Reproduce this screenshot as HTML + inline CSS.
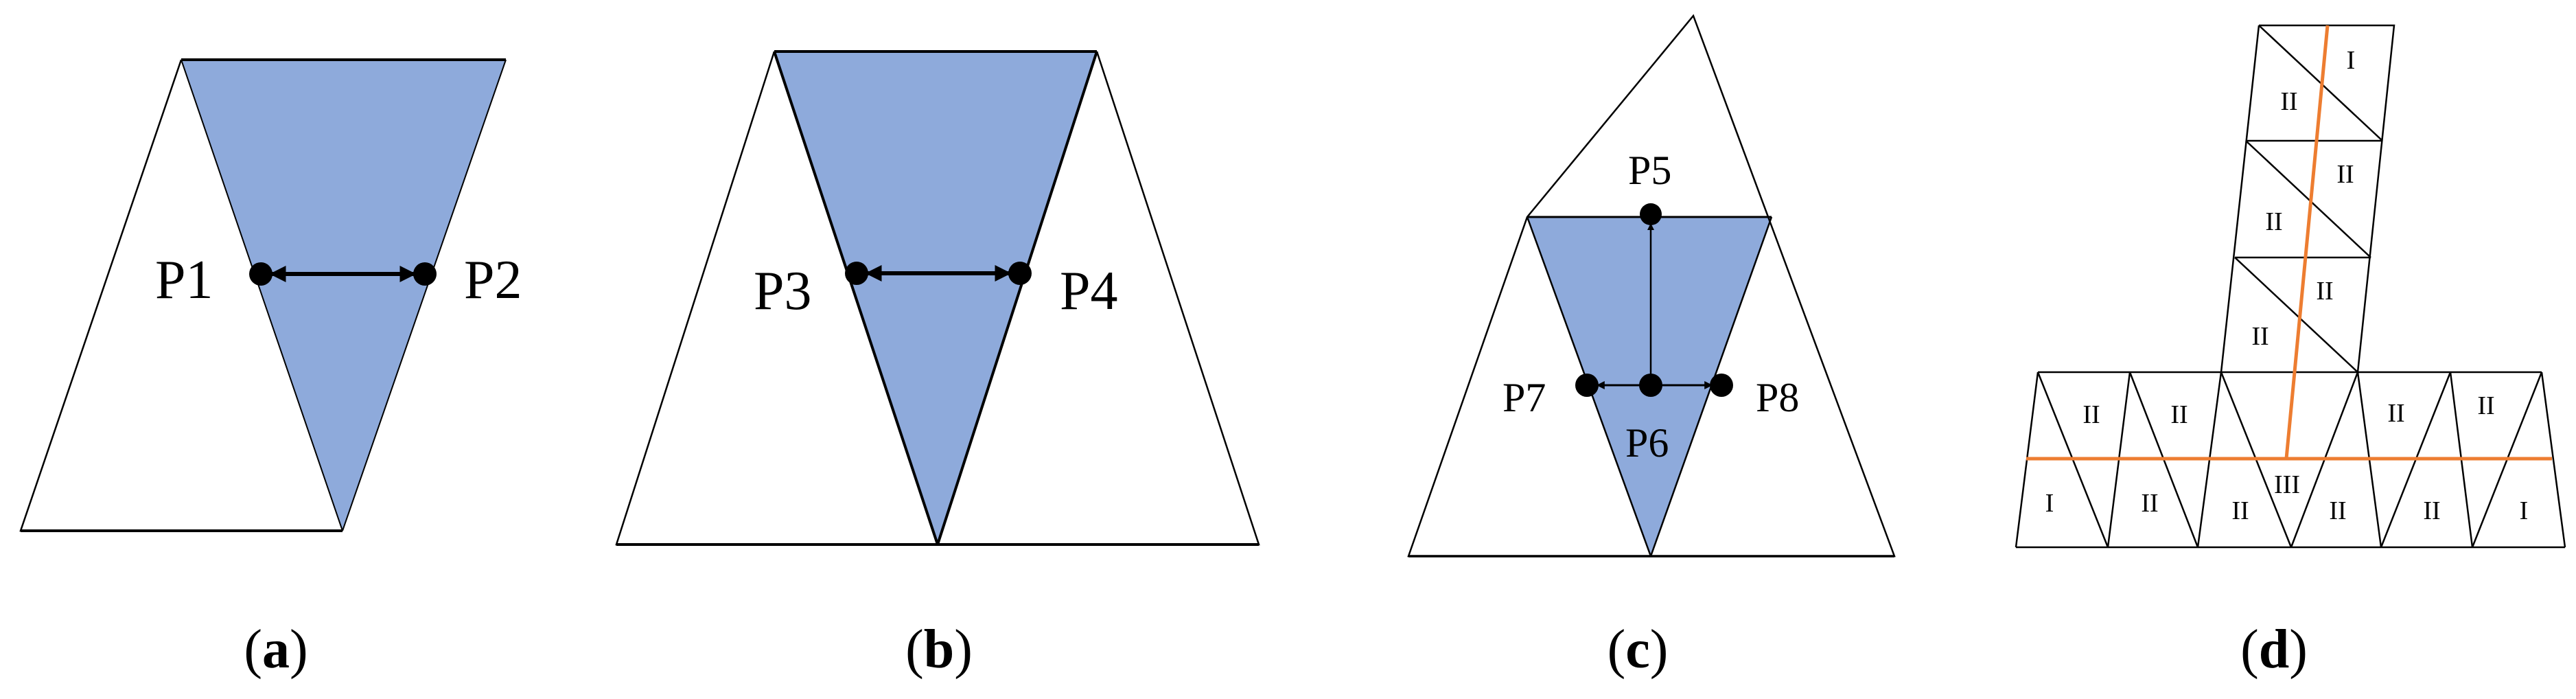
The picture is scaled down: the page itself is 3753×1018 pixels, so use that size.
<!DOCTYPE html>
<html><head><meta charset="utf-8"><style>
html,body{margin:0;padding:0;background:#fff;}
svg{display:block;}
svg text{font-family:"Liberation Serif","DejaVu Serif",serif;fill:#000;}
</style></head><body>
<svg width="3753" height="1018" viewBox="0 0 3753 1018" xmlns="http://www.w3.org/2000/svg" font-family="Liberation Serif, DejaVu Serif, serif">
<defs>
<marker id="ah" viewBox="0 0 10 10" refX="9" refY="5" markerWidth="4" markerHeight="4" orient="auto-start-reverse"><path d="M0,0 L10,5 L0,10 z" fill="#000"/></marker>
</defs>
<!-- (a) -->
<polygon points="264,87 737,87 499,773" fill="#8eaadb"/>
<polyline points="264,87 30,773 499,773" fill="none" stroke="#000" stroke-width="2.5"/>
<line x1="264" y1="87" x2="737" y2="87" stroke="#000" stroke-width="4"/>
<line x1="264" y1="87" x2="499" y2="773" stroke="#000" stroke-width="2"/>
<line x1="737" y1="87" x2="499" y2="773" stroke="#000" stroke-width="2"/>
<line x1="30" y1="773" x2="499" y2="773" stroke="#000" stroke-width="4"/>
<line x1="395" y1="399" x2="604" y2="399" stroke="#000" stroke-width="6" marker-start="url(#ah)" marker-end="url(#ah)"/>
<circle cx="380" cy="399" r="17"/><circle cx="619" cy="399" r="17"/>
<g font-family="Liberation Serif, DejaVu Serif, serif">
<text x="226" y="434" font-size="80">P1</text>
<text x="676" y="434" font-size="80">P2</text>
</g>
<!-- (b) -->
<polygon points="1128,75 1598,75 1366,793" fill="#8eaadb"/>
<polyline points="1128,75 898,793 1834,793 1598,75" fill="none" stroke="#000" stroke-width="2.5"/>
<line x1="1128" y1="75" x2="1598" y2="75" stroke="#000" stroke-width="4"/>
<line x1="1128" y1="75" x2="1366" y2="793" stroke="#000" stroke-width="4"/>
<line x1="1598" y1="75" x2="1366" y2="793" stroke="#000" stroke-width="4"/>
<line x1="898" y1="793" x2="1834" y2="793" stroke="#000" stroke-width="4"/>
<line x1="1263" y1="398" x2="1471" y2="398" stroke="#000" stroke-width="6" marker-start="url(#ah)" marker-end="url(#ah)"/>
<circle cx="1248" cy="398" r="17"/><circle cx="1486" cy="398" r="17"/>
<g font-family="Liberation Serif, DejaVu Serif, serif">
<text x="1098" y="450" font-size="80">P3</text>
<text x="1544" y="450" font-size="80">P4</text>
</g>
<!-- (c) -->
<polygon points="2225,316 2581,316 2405,810" fill="#8eaadb"/>
<polygon points="2052,810 2225,316 2467,23 2760,810" fill="none" stroke="#000" stroke-width="2.5"/>
<line x1="2225" y1="316" x2="2581" y2="316" stroke="#000" stroke-width="3"/>
<line x1="2225" y1="316" x2="2405" y2="810" stroke="#000" stroke-width="2.5"/>
<line x1="2581" y1="316" x2="2405" y2="810" stroke="#000" stroke-width="2.5"/>
<line x1="2052" y1="810" x2="2760" y2="810" stroke="#000" stroke-width="3.5"/>
<line x1="2405" y1="550" x2="2405" y2="326" stroke="#000" stroke-width="2.5" marker-end="url(#ah)"/>
<line x1="2395" y1="561" x2="2327" y2="561" stroke="#000" stroke-width="3" marker-end="url(#ah)"/>
<line x1="2415" y1="561" x2="2494" y2="561" stroke="#000" stroke-width="3" marker-end="url(#ah)"/>
<circle cx="2405" cy="312" r="16"/><circle cx="2405" cy="561" r="17"/>
<circle cx="2312" cy="561" r="17"/><circle cx="2508" cy="561" r="17"/>
<g font-family="Liberation Serif, DejaVu Serif, serif" font-size="60">
<text x="2372" y="268">P5</text>
<text x="2189" y="599">P7</text>
<text x="2558" y="599">P8</text>
<text x="2368" y="665">P6</text>
</g>
<!-- (d) -->
<g fill="none" stroke="#000" stroke-width="2.5">
<polyline points="3291,37 3488,37 3435,542"/>
<line x1="3291" y1="37" x2="3236" y2="542"/>
<line x1="3272" y1="205" x2="3471" y2="205"/>
<line x1="3256" y1="375" x2="3454" y2="375"/>
<line x1="3291" y1="37" x2="3471" y2="205"/>
<line x1="3272" y1="205" x2="3454" y2="375"/>
<line x1="3256" y1="375" x2="3435" y2="542"/>
<line x1="2969" y1="542" x2="3703" y2="542"/>
<line x1="2937" y1="797" x2="3737" y2="797"/>
<line x1="2969" y1="542" x2="2937" y2="797"/>
<line x1="3703" y1="542" x2="3737" y2="797"/>
<line x1="2969" y1="542" x2="3071" y2="797"/>
<line x1="3103" y1="542" x2="3071" y2="797"/>
<line x1="3103" y1="542" x2="3202" y2="797"/>
<line x1="3236" y1="542" x2="3202" y2="797"/>
<line x1="3236" y1="542" x2="3338" y2="797"/>
<line x1="3435" y1="542" x2="3338" y2="797"/>
<line x1="3435" y1="542" x2="3469" y2="797"/>
<line x1="3570" y1="542" x2="3469" y2="797"/>
<line x1="3570" y1="542" x2="3602" y2="797"/>
<line x1="3703" y1="542" x2="3602" y2="797"/>
</g>
<line x1="3391" y1="37" x2="3331" y2="668" stroke="#ed7d31" stroke-width="5"/>
<line x1="2952" y1="668" x2="3718" y2="668" stroke="#ed7d31" stroke-width="5"/>
<g font-family="Liberation Serif, DejaVu Serif, serif" font-size="38" text-anchor="middle">
<text x="3425" y="100">I</text>
<text x="3335" y="160">II</text>
<text x="3417" y="266">II</text>
<text x="3313" y="335">II</text>
<text x="3387" y="436">II</text>
<text x="3293" y="502">II</text>
<text x="3047" y="616">II</text>
<text x="3175" y="616">II</text>
<text x="3491" y="614">II</text>
<text x="3622" y="603">II</text>
<text x="2986" y="745">I</text>
<text x="3132" y="745">II</text>
<text x="3264" y="756">II</text>
<text x="3332" y="718">III</text>
<text x="3406" y="756">II</text>
<text x="3543" y="756">II</text>
<text x="3677" y="756">I</text>
</g>
<!-- captions -->
<g font-family="Liberation Serif, DejaVu Serif, serif" font-size="80" text-anchor="middle">
<text x="402" y="972">(<tspan font-weight="bold">a</tspan>)</text>
<text x="1368" y="972">(<tspan font-weight="bold">b</tspan>)</text>
<text x="2386" y="972">(<tspan font-weight="bold">c</tspan>)</text>
<text x="3313" y="972">(<tspan font-weight="bold">d</tspan>)</text>
</g>
</svg>
</body></html>
